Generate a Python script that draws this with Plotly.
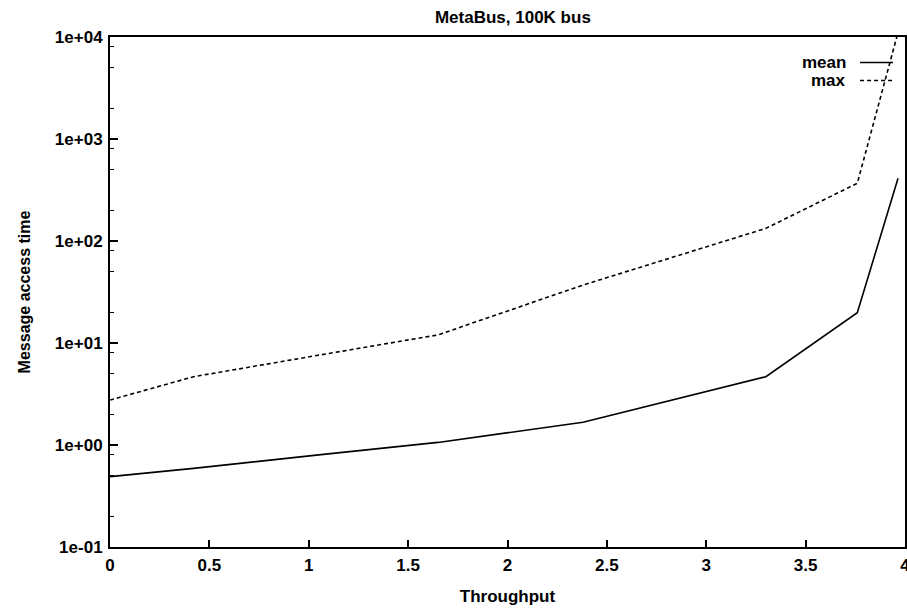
import plotly.graph_objects as go

# Data
throughput = [0.0, 0.42, 1.05, 1.65, 2.38, 3.3, 3.76, 3.965]
mean_time = [0.49, 0.59, 0.80, 1.06, 1.67, 4.67, 19.8, 412]
max_time = [2.76, 4.67, 7.6, 12.0, 37.0, 133, 368, 11100]

y_tickvals = [0.1, 1, 10, 100, 1000, 10000]
y_ticktext = ["1e-01", "1e+00", "1e+01", "1e+02", "1e+03", "1e+04"]
x_tickvals = [0, 0.5, 1, 1.5, 2, 2.5, 3, 3.5, 4]
x_ticktext = ["0", "0.5", "1", "1.5", "2", "2.5", "3", "3.5", "4"]
legend_names = ["mean", "max"]
legend_dashes = ["solid", "4px,3px"]

minor_y = [m * 10 ** e for e in range(-1, 4) for m in (2, 5, 8)]

FONT = "Liberation Sans, Arial, sans-serif"
TXT = dict(family=FONT, size=17, color="black", weight="bold")

fig = go.Figure()
fig.add_trace(go.Scatter(x=throughput, y=mean_time, mode="lines", name=legend_names[0],
                         line=dict(color="black", width=1.6, dash=legend_dashes[0])))
fig.add_trace(go.Scatter(x=throughput, y=max_time, mode="lines", name=legend_names[1],
                         line=dict(color="black", width=1.6, dash=legend_dashes[1])))

fig.update_layout(
    width=907, height=610,
    margin=dict(l=110, r=0, t=37, b=63),
    paper_bgcolor="white", plot_bgcolor="white",
    showlegend=False,
    font=TXT,
    title=dict(text="MetaBus, 100K bus", x=0.5655, xanchor="center", y=0.972, yanchor="middle",
               font=TXT),
)
fig.update_xaxes(
    range=[0, 4], tickvals=x_tickvals, ticktext=x_ticktext,
    ticks="inside", ticklen=7, tickwidth=1.5, tickcolor="black",
    showline=True, linecolor="black", linewidth=2, mirror=True,
    showgrid=False, zeroline=False, automargin=False,
    tickfont=TXT, ticklabelstandoff=2, ticklabeloverflow="allow",
    title=dict(text="Throughput", standoff=16, font=TXT),
)
fig.update_yaxes(
    type="log", range=[-1, 4], tickvals=y_tickvals, ticktext=y_ticktext,
    ticks="inside", ticklen=8, tickwidth=1.5, tickcolor="black",
    minor=dict(tickvals=minor_y, ticks="inside", ticklen=4, tickcolor="black", tickwidth=1.2, showgrid=False),
    showline=True, linecolor="black", linewidth=2, mirror=True,
    showgrid=False, zeroline=False,
    tickfont=TXT, ticklabelstandoff=2,
    title=dict(text="Message access time", standoff=20, font=dict(TXT, size=16)),
)

# gnuplot-style legend: text then line sample, at top right inside the plot
for i, (name, dash) in enumerate(zip(legend_names, legend_dashes)):
    yy = 0.950 - i * 0.0353
    fig.add_annotation(text=name, xref="paper", yref="paper", x=0.9285, y=yy,
                       xanchor="right", yanchor="middle", showarrow=False, font=TXT)
    fig.add_shape(type="line", xref="paper", yref="paper", x0=0.9435, x1=0.985, y0=yy, y1=yy,
                  line=dict(color="black", width=1.4, dash=dash))

fig.write_html(
    "out.html",
    config={"displayModeBar": False},
    post_script="document.body.style.margin='0';document.body.style.overflow='hidden';",
)
